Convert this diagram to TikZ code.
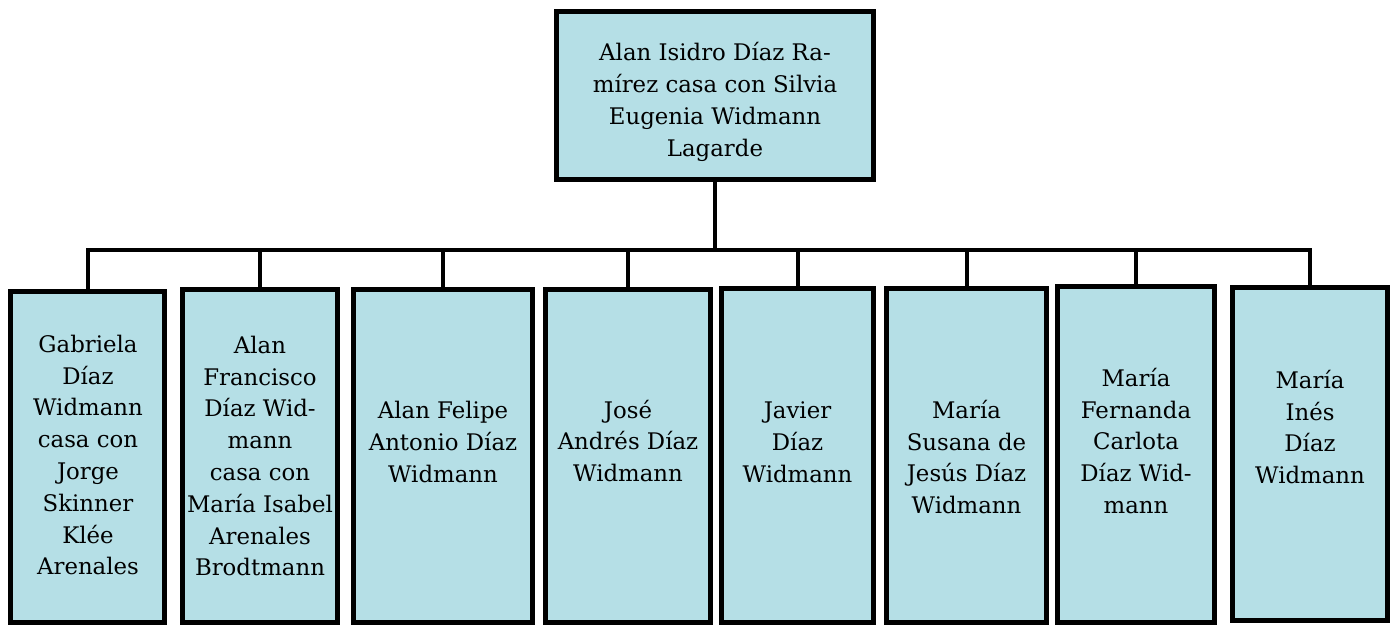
\documentclass[tikz,border=0pt]{standalone}
\usepackage{fontspec}
\setmainfont{DejaVu Serif}
\usepackage{tikz}
\definecolor{celeste}{RGB}{181,223,230}
\tikzset{
    caja/.style = {rectangle, draw=black, fill=celeste, line width=0.1cm, inner sep=0pt},
    texto/.style = {align=center, inner sep=0pt, font=\fontsize{13}{18.1}\selectfont},
    linea/.style = {line width=0.08cm, line cap=rect}
}
\begin{document}
\begin{tikzpicture}[x=0.02cm, y=-0.02cm]
\useasboundingbox (0,0) rectangle (1392,627);
% cajas
\node (raiz) [caja, minimum width=6.34cm, minimum height=3.36cm] at (715,95.5) {};
\node (gabriela) [caja, minimum width=3.08cm, minimum height=6.62cm] at (87.5,457) {};
\node (alanfco) [caja, minimum width=3.10cm, minimum height=6.66cm] at (260,456) {};
\node (alanfel) [caja, minimum width=3.58cm, minimum height=6.66cm] at (443,456) {};
\node (jose) [caja, minimum width=3.30cm, minimum height=6.66cm] at (628,456) {};
\node (javier) [caja, minimum width=3.04cm, minimum height=6.68cm] at (797.5,455.5) {};
\node (susana) [caja, minimum width=3.20cm, minimum height=6.68cm] at (966.5,455.5) {};
\node (fernanda) [caja, minimum width=3.14cm, minimum height=6.72cm] at (1136,454.5) {};
\node (ines) [caja, minimum width=3.10cm, minimum height=6.66cm] at (1310,454) {};

% textos
\node (traiz) [texto] at (715,102) {Alan Isidro Díaz Ra-\\mírez casa con Silvia\\Eugenia Widmann\\Lagarde};
\node (tgabriela) [texto] at (88,455) {Gabriela\\Díaz\\Widmann\\casa con\\Jorge\\Skinner\\Klée\\Arenales};
\node (talanfco) [texto] at (260,456) {Alan\\Francisco\\Díaz Wid-\\mann\\casa con\\María Isabel\\Arenales\\Brodtmann};
\node (talanfel) [texto] at (443,442) {Alan Felipe\\Antonio Díaz\\Widmann};
\node (tjose) [texto] at (628,441) {José\\Andrés Díaz\\Widmann};
\node (tjavier) [texto] at (797.5,442) {Javier\\Díaz\\Widmann};
\node (tsusana) [texto] at (966.5,457) {María\\Susana de\\Jesús Díaz\\Widmann};
\node (tfernanda) [texto] at (1136,441) {María\\Fernanda\\Carlota\\Díaz Wid-\\mann};
\node (tines) [texto] at (1310,427) {María\\Inés\\Díaz\\Widmann};

% conectores
\coordinate (bus) at (715,250);
\draw [linea] (raiz) -- (bus);
\draw [linea] (bus -| gabriela.north) -- (bus -| ines.north);
\foreach \hijo in {gabriela, alanfco, alanfel, jose, javier, susana, fernanda, ines}
    \draw [linea] (bus -| \hijo.north) -- (\hijo.north);
\end{tikzpicture}
\end{document}
